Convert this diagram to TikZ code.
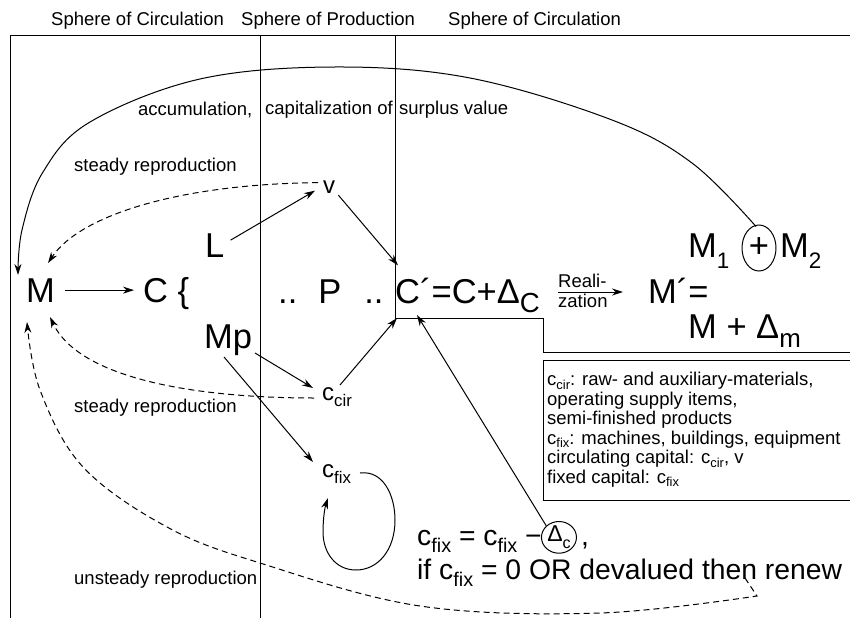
\documentclass[tikz,border=0pt]{standalone}
\usepackage{fontspec}
\setmainfont{Liberation Sans}
\usepackage{graphicx}
\usetikzlibrary{arrows.meta,shapes.geometric}
\newcommand\lsub[2][0.7]{\raisebox{-0.28em}{\scalebox{#1}{#2}}}
\newcommand\ssub[1]{\raisebox{-0.2em}{\scalebox{0.7}{#1}}}
\begin{document}
\begin{tikzpicture}[x=1pt,y=-1pt,
  every node/.style={inner sep=0pt},
  bigt/.style={font=\fontsize{34.5}{38}\selectfont},
  midt/.style={font=\fontsize{24}{28}\selectfont},
  eqt/.style={font=\fontsize{28.3}{32}\selectfont},
  smallt/.style={font=\fontsize{18.5}{19.5}\selectfont},
  arr/.style={-{Stealth[length=11pt,width=7pt]}, line width=1pt},
  dsh/.style={dash pattern=on 6pt off 4pt, line width=1pt},
  frame/.style={line width=1pt}]
\useasboundingbox (0,0) rectangle (850,618);

% frame lines
\draw[frame] (850,36) -- (10,36) -- (10,618);
\draw[frame] (260,36) -- (260,618);
\draw[frame] (395,36) -- (395,318) -- (543,318) -- (543,352) -- (850,352);
\draw[frame] (850,360) -| (543,500) -- (850,500);

% headers
\node[smallt, anchor=west] (h1) at (51,21) {Sphere of Circulation};
\node[smallt, anchor=west] (h2) at (241,21) {Sphere of Production};
\node[smallt, anchor=west] (h3) at (448,21) {Sphere of Circulation};

% labels
\node[smallt, anchor=west] (acc1) at (138,110) {accumulation,};
\node[smallt, anchor=west] (acc2) at (265,110) {capitalization of};
\node[smallt, anchor=west] (acc3) at (399,110) {surplus value};
\node[smallt, anchor=west] (sr1) at (74,167) {steady reproduction};
\node[smallt, anchor=west] (sr2) at (74,408) {steady reproduction};
\node[smallt, anchor=west] (usr) at (74,580) {unsteady reproduction};

% main formula
\node[bigt, anchor=base west] (M) at (26,302) {M};
\node[bigt, anchor=base west] (Cb) at (143,302) {C \{};
\node[bigt, anchor=base west] (L) at (205,257) {L};
\node[bigt, anchor=base west] (Mp) at (204,348) {Mp};
\node[bigt, anchor=base west] (P) at (278,303) {..\hspace{21pt}P\hspace{23pt}..};
\node[bigt, anchor=base west] (Cp) at (395,303) {C´=C+Δ\lsub[0.8]{C}};
\node[smallt, anchor=base west] (re1) at (558,287) {Reali-};
\node[smallt, anchor=base west] (re2) at (558,307) {zation};
\node[bigt, anchor=base west] (Mq) at (648,303) {M´=};
\node[bigt, anchor=base west] (Mm) at (688,338) {M + Δ\lsub[0.75]{m}};
\node[bigt, anchor=base west] (M1) at (688,257) {M\lsub[0.65]{\raisebox{-0.1em}{1}}};
\node[bigt, draw, ellipse, minimum width=34pt, minimum height=46pt, line width=1pt] (ep) at (759,248) {+};
\node[bigt, anchor=base west] (M2) at (780,257) {M\lsub[0.65]{\raisebox{-0.1em}{2}}};

\node[midt, anchor=base west] (v) at (323,193) {v};
\node[midt, anchor=base west] (cc) at (322,400) {c\lsub{cir}};
\node[midt, anchor=base west] (cf) at (322,477) {c\lsub{fix}};

\node[eqt, anchor=base west] (eq1) at (417,545) {c\lsub{fix} = c\lsub{fix} −};
\node[draw, ellipse, anchor=west, minimum width=35pt, minimum height=27pt, line width=1pt,
      font=\fontsize{23}{25}\selectfont] (dc) at ([shift={(-1,-4)}]eq1.east) {Δ\lsub{c}};
\node[eqt, anchor=base west] (cm) at ([xshift=4pt]dc.east |- eq1.base) {,};
\node[eqt, anchor=base west] (eq2) at (417,579) {if c\lsub{fix} = 0 OR devalued then renew};

% legend
\node[smallt, anchor=north west, align=left] (leg) at (547,372)
 {c\ssub{cir}: raw- and auxiliary-materials,\\
  operating supply items,\\
  semi-finished products\\
  c\ssub{fix}: machines, buildings, equipment\\
  circulating capital: c\ssub{cir}, v\\
  fixed capital: c\ssub{fix}};

% coordinates near M
\coordinate (Mtl) at (18,275);
\coordinate (Mtr) at (48,263);
\coordinate (Mbr) at (50,317);
\coordinate (Mbl) at (27,322);
\coordinate (ra) at (558,292);
\coordinate (rb) at (623,292);

% solid arrows
\draw[arr, shorten <=10pt, shorten >=9pt] (M.east) -- (M.east -| Cb.west);
\draw[arr] ([shift={(6,-5)}]L.east) -- ([shift={(-8,4)}]v.west);
\draw[arr] ([shift={(3,2)}]v.south east) -- ([shift={(3,-12)}]Cp.north west);
\draw[arr] ([shift={(51,5)}]Mp.base west) -- ([shift={(-9,-12)}]cc.base west);
\draw[arr] ([shift={(18,-15)}]cc.base west) -- ([shift={(2,15)}]Cp.base west);
\draw[arr] ([shift={(20,9)}]Mp.base west) -- ([shift={(-9,-15)}]cf.base west);
\draw[arr] (dc.north west) -- ([shift={(22,12)}]Cp.base west);
\draw[arr] (ra) -- (rb);

% loop around c_fix
\coordinate (lp0) at ([shift={(38,-4)}]cf.base west);
\draw[arr] (lp0) .. controls (383,470) and (395,495) .. (395,520)
  .. controls (395,550) and (378,570) .. (356,570)
  .. controls (335,570) and (323,552) .. (323,532)
  .. controls (323,518) and (325,507) .. (328,498);

% big accumulation arc
\draw[arr] plot[smooth, tension=0.6] coordinates {([shift={(-3,2)}]ep.north) (692,163) (612,120) (470,78) (335,67) (200,79) (90,122) (43,172) (22,230) (Mtl)};

% dashed reproduction arcs
\draw[arr, dsh] ([shift={(-5,-4)}]v.west) .. controls (180,184) and (80,215) .. (Mtr);
\draw[arr, dsh] ([shift={(-8,-2)}]cc.base west) .. controls (200,398) and (80,380) .. (Mbr);
\coordinate (hk) at (745,578);
\draw[arr, dsh] (hk) -- plot[smooth, tension=0.6] coordinates {(757,596) (600,613) (420,606) (260,563) (167,527) (83,467) (40,390) (Mbl)};
\end{tikzpicture}
\end{document}
